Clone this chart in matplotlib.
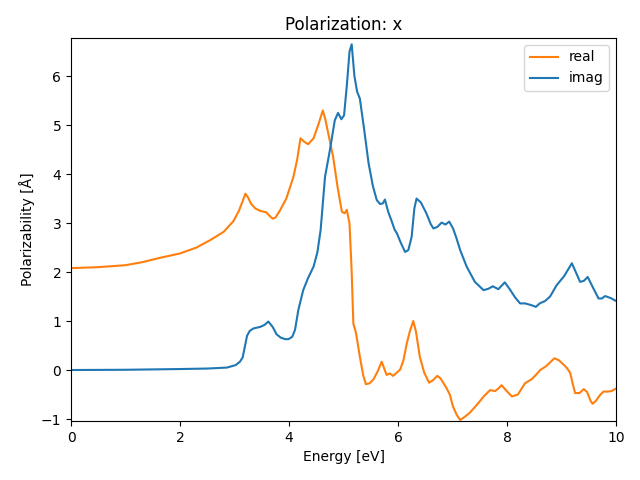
import matplotlib
matplotlib.use('Agg')
import matplotlib.pyplot as plt
import numpy as np

# energies and values
e_real = [0.0, 0.5, 1.0, 1.3, 1.63, 2.0, 2.3, 2.55, 2.8, 2.98, 3.08, 3.15, 3.2, 3.25,
          3.3, 3.38, 3.47, 3.58, 3.65, 3.7, 3.75, 3.83, 3.95, 4.08, 4.15, 4.21, 4.28,
          4.35, 4.45, 4.55, 4.62, 4.67, 4.72, 4.81, 4.89, 4.97, 5.02, 5.06, 5.11,
          5.15, 5.18, 5.23, 5.3, 5.36, 5.41, 5.48, 5.55, 5.63, 5.7, 5.74, 5.79,
          5.85, 5.91, 5.97, 6.04, 6.1, 6.16, 6.22, 6.28, 6.33, 6.4, 6.48, 6.57,
          6.65, 6.72, 6.78, 6.89, 6.95, 7.01, 7.08, 7.14, 7.22, 7.32, 7.47, 7.58,
          7.69, 7.78, 7.84, 7.9, 7.97, 8.09, 8.2, 8.33, 8.45, 8.53, 8.61, 8.72,
          8.87, 8.95, 9.03, 9.1, 9.16, 9.21, 9.25, 9.33, 9.41, 9.47, 9.53, 9.57,
          9.63, 9.7, 9.77, 9.85, 9.92, 9.98, 10.0]
real = [2.08, 2.1, 2.14, 2.2, 2.29, 2.38, 2.5, 2.65, 2.82, 3.04, 3.25, 3.45, 3.6,
        3.52, 3.4, 3.3, 3.25, 3.22, 3.14, 3.09, 3.11, 3.25, 3.5, 3.94, 4.3, 4.73,
        4.66, 4.61, 4.73, 5.05, 5.3, 5.1, 4.83, 4.35, 3.74, 3.23, 3.2, 3.27, 2.99,
        2.0, 0.95, 0.75, 0.27, -0.1, -0.29, -0.27, -0.19, -0.02, 0.17, 0.05, -0.1,
        -0.07, -0.12, -0.06, 0.01, 0.2, 0.54, 0.8, 1.0, 0.78, 0.27, -0.05, -0.26,
        -0.2, -0.12, -0.17, -0.37, -0.5, -0.75, -0.92, -1.02, -0.96, -0.87, -0.68,
        -0.53, -0.41, -0.43, -0.38, -0.31, -0.4, -0.54, -0.5, -0.27, -0.19, -0.1,
        0.0, 0.08, 0.24, 0.2, 0.12, 0.04, -0.06, -0.3, -0.47, -0.47, -0.39, -0.45,
        -0.62, -0.69, -0.63, -0.52, -0.44, -0.44, -0.43, -0.39, -0.38]

e_imag = [0.0, 1.0, 2.0, 2.5, 2.86, 3.02, 3.1, 3.15, 3.19, 3.23, 3.28, 3.35, 3.47,
          3.55, 3.62, 3.7, 3.77, 3.85, 3.93, 3.99, 4.06, 4.11, 4.17, 4.26, 4.35,
          4.45, 4.52, 4.58, 4.66, 4.75, 4.84, 4.9, 4.96, 5.01, 5.06, 5.11, 5.15,
          5.2, 5.25, 5.3, 5.38, 5.46, 5.54, 5.61, 5.67, 5.72, 5.76, 5.82, 5.88,
          5.94, 5.98, 6.05, 6.13, 6.19, 6.25, 6.3, 6.34, 6.42, 6.52, 6.6, 6.65,
          6.72, 6.8, 6.87, 6.94, 7.01, 7.07, 7.14, 7.26, 7.41, 7.57, 7.66, 7.74,
          7.84, 7.96, 8.05, 8.15, 8.24, 8.33, 8.43, 8.53, 8.6, 8.7, 8.79, 8.91,
          9.05, 9.19, 9.27, 9.34, 9.41, 9.48, 9.57, 9.68, 9.74, 9.8, 9.9, 10.0]
imag = [0.0, 0.005, 0.02, 0.03, 0.05, 0.1, 0.17, 0.26, 0.48, 0.7, 0.8, 0.85, 0.88,
        0.92, 0.99, 0.88, 0.73, 0.66, 0.63, 0.63, 0.68, 0.82, 1.22, 1.63, 1.88,
        2.11, 2.4, 2.86, 3.94, 4.49, 5.1, 5.25, 5.12, 5.2, 5.8, 6.5, 6.65, 6.0,
        5.68, 5.54, 4.9, 4.22, 3.75, 3.47, 3.39, 3.4, 3.48, 3.23, 3.05, 2.86,
        2.79, 2.6, 2.41, 2.45, 2.72, 3.3, 3.5, 3.42, 3.2, 2.98, 2.89, 2.92, 3.01,
        2.97, 3.03, 2.89, 2.7, 2.45, 2.11, 1.8, 1.63, 1.66, 1.71, 1.65, 1.79,
        1.65, 1.48, 1.36, 1.36, 1.33, 1.29, 1.36, 1.41, 1.5, 1.73, 1.92, 2.18,
        1.98, 1.8, 1.82, 1.9, 1.7, 1.46, 1.46, 1.51, 1.47, 1.41]

plt.figure(figsize=(6.4, 4.8), dpi=100)
plt.plot(e_real, real, color='C1', label='real')
plt.plot(e_imag, imag, color='C0', label='imag')
plt.xlim(0, 10)
plt.ylim(-1.04, 6.78)
plt.xlabel('Energy [eV]')
plt.ylabel('Polarizability [Å]')
plt.title('Polarization: x')
plt.legend(loc='upper right')
plt.subplots_adjust(left=0.111, right=0.9625, top=0.921, bottom=0.123)
plt.savefig('out.png')
